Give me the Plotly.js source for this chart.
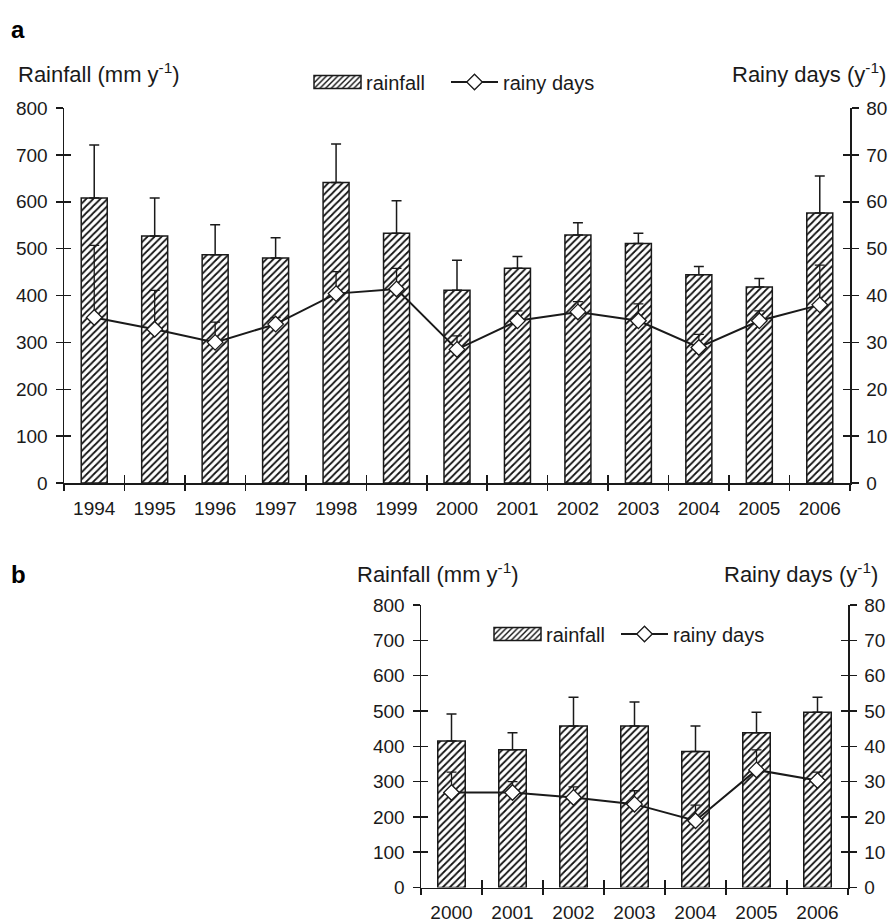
<!DOCTYPE html>
<html>
<head>
<meta charset="utf-8">
<script src="https://cdn.plot.ly/plotly-3.0.1.min.js"></script>
<style>html,body{margin:0;padding:0;background:#fff;}#chart{width:890px;height:924px;}</style>
</head>
<body>
<div id="chart"></div>
<script>
// ---- Panel a data (1994-2006) ----
var yearsA = ['1994','1995','1996','1997','1998','1999','2000','2001','2002','2003','2004','2005','2006'];
var rainfallA = [608, 527, 487, 480, 641, 533, 411, 458, 529, 511, 444, 418, 576];
var rainfallErrA = [113, 81, 64, 43, 82, 69, 64, 25, 26, 22, 18, 18, 79];
var rainyDaysA = [35.3, 32.8, 30.0, 33.9, 40.4, 41.4, 28.5, 34.6, 36.5, 34.6, 28.9, 34.6, 38.0];
var rainyDaysErrA = [15.4, 8.3, 4.3, 1.4, 4.7, 4.4, 2.9, 2.1, 2.2, 3.6, 2.8, 2.1, 8.5];

// ---- Panel b data (2000-2006) ----
var yearsB = ['2000','2001','2002','2003','2004','2005','2006'];
var rainfallB = [415, 390, 457, 457, 385, 438, 496];
var rainfallErrB = [76, 48, 82, 68, 72, 58, 43];
var rainyDaysB = [26.9, 26.9, 25.5, 23.6, 18.9, 33.3, 30.3];
var rainyDaysErrB = [5.8, 3.1, 3.0, 3.8, 4.4, 5.7, 2.4];

var INK = '#1a1a1a';
var FONT = 'Liberation Sans, Arial, sans-serif';
var W = 890, H = 924;
var ITEMW = 47;
function px(x){ return x / W; }
function py(y){ return 1 - y / H; }
function zeros(n){ var a = []; for (var i = 0; i < n; i++) a.push(0); return a; }

function barTrace(x, y, err, xa, ya, lg, w){
  return {
    type: 'bar', x: x, y: y, xaxis: xa, yaxis: ya, name: 'rainfall', legend: lg,
    width: w,
    marker: {color: '#ffffff', line: {color: INK, width: 1.5},
      pattern: {shape: '/', fgcolor: '#111', bgcolor: '#ffffff', size: 5, solidity: 0.35}},
    error_y: {type: 'data', symmetric: false, array: err, arrayminus: zeros(err.length),
      color: INK, thickness: 1.5, width: 5},
    hoverinfo: 'skip'
  };
}
function lineTrace(x, y, err, xa, ya, lg){
  return {
    type: 'scatter', mode: 'lines+markers', x: x, y: y, xaxis: xa, yaxis: ya,
    name: 'rainy days', legend: lg,
    line: {color: INK, width: 2},
    marker: {symbol: 'diamond', size: 12, color: '#ffffff', line: {color: INK, width: 1.3}},
    error_y: {type: 'data', symmetric: false, array: err, arrayminus: zeros(err.length),
      color: INK, thickness: 1.3, width: 5},
    hoverinfo: 'skip'
  };
}
function dummy(x, y, xa, ya){
  return {type: 'scatter', mode: 'markers', x: x, y: y, xaxis: xa, yaxis: ya,
    marker: {opacity: 0}, showlegend: false, hoverinfo: 'skip'};
}

var data = [
  barTrace(yearsA, rainfallA, rainfallErrA, 'x', 'y', 'legend', 0.43),
  lineTrace(yearsA, rainyDaysA, rainyDaysErrA, 'x', 'y2', 'legend3'),
  dummy(yearsA, rainfallA, 'x3', 'y3'),
  dummy(yearsA, rainyDaysA, 'x3', 'y4'),
  barTrace(yearsB, rainfallB, rainfallErrB, 'x2', 'y5', 'legend2', 0.45),
  lineTrace(yearsB, rainyDaysB, rainyDaysErrB, 'x2', 'y6', 'legend4'),
  dummy(yearsB, rainfallB, 'x4', 'y7'),
  dummy(yearsB, rainyDaysB, 'x4', 'y8')
];

var tickFont = {family: FONT, size: 19, color: INK};
function xBase(dom, anchor, cats, standoff){
  return {domain: dom, anchor: anchor, type: 'category', categoryorder: 'array', categoryarray: cats,
    range: [-0.5, cats.length - 0.5], tickson: 'boundaries', ticks: 'outside', ticklen: 6,
    tickwidth: 1.5, tickcolor: INK, showline: true, linecolor: INK, linewidth: 1.5,
    showgrid: false, zeroline: false, tickfont: tickFont, ticklabelstandoff: standoff, fixedrange: true};
}
function xOver(over, anchor, cats){
  return {overlaying: over, anchor: anchor, type: 'category', categoryorder: 'array', categoryarray: cats,
    range: [-0.5, cats.length - 0.5], tickson: 'boundaries', ticks: 'inside', ticklen: 8,
    tickwidth: 1.5, tickcolor: INK, showline: false, showgrid: false, zeroline: false,
    showticklabels: false, fixedrange: true};
}
function yAxis(opts){
  var a = {anchor: opts.anchor, side: opts.side, range: opts.range, dtick: opts.dtick, tick0: 0,
    ticks: opts.inside ? 'inside' : 'outside', ticklen: 7, tickwidth: 1.5, tickcolor: INK,
    showline: !opts.inside, linecolor: INK, linewidth: 1.5, showgrid: false, zeroline: false,
    showticklabels: !opts.inside, tickfont: tickFont, ticklabelstandoff: 4, fixedrange: true};
  if (opts.domain) a.domain = opts.domain;
  if (opts.overlaying) a.overlaying = opts.overlaying;
  return a;
}
function legendAt(xPix, yPix){
  return {orientation: 'h', x: px(xPix), xanchor: 'left', y: py(yPix), yanchor: 'middle',
    font: {family: FONT, size: 20, color: INK}, bgcolor: 'rgba(0,0,0,0)', itemwidth: ITEMW};
}

var domXA = [px(64), px(850)], domYA = [py(483), py(108)];
var domXB = [px(421), px(848)], domYB = [py(887.5), py(605)];

var titleFont = {family: FONT, size: 22, color: INK};
var layout = {
  width: W, height: H,
  margin: {l: 0, r: 0, t: 0, b: 0},
  paper_bgcolor: '#ffffff', plot_bgcolor: 'rgba(0,0,0,0)',
  font: {family: FONT, color: INK},
  showlegend: true,
  xaxis: xBase(domXA, 'y', yearsA, 8),
  xaxis3: xOver('x', 'y', yearsA),
  yaxis: yAxis({domain: domYA, anchor: 'x', side: 'left', range: [0, 800], dtick: 100}),
  yaxis3: yAxis({overlaying: 'y', anchor: 'x', side: 'left', range: [0, 800], dtick: 100, inside: true}),
  yaxis2: yAxis({overlaying: 'y', anchor: 'x', side: 'right', range: [0, 80], dtick: 10}),
  yaxis4: yAxis({overlaying: 'y', anchor: 'x', side: 'right', range: [0, 80], dtick: 10, inside: true}),
  xaxis2: xBase(domXB, 'y5', yearsB, 7),
  xaxis4: xOver('x2', 'y5', yearsB),
  yaxis5: yAxis({domain: domYB, anchor: 'x2', side: 'left', range: [0, 800], dtick: 100}),
  yaxis7: yAxis({overlaying: 'y5', anchor: 'x2', side: 'left', range: [0, 800], dtick: 100, inside: true}),
  yaxis6: yAxis({overlaying: 'y5', anchor: 'x2', side: 'right', range: [0, 80], dtick: 10}),
  yaxis8: yAxis({overlaying: 'y5', anchor: 'x2', side: 'right', range: [0, 80], dtick: 10, inside: true}),
  legend: legendAt(309, 82),
  legend3: legendAt(446, 82),
  legend2: legendAt(489, 634),
  legend4: legendAt(616, 634),
  annotations: [
    {xref: 'paper', yref: 'paper', x: px(9), y: py(30), xanchor: 'left', yanchor: 'middle', showarrow: false,
      text: '<b>a</b>', font: {family: FONT, size: 24, color: '#000'}},
    {xref: 'paper', yref: 'paper', x: px(9), y: py(574), xanchor: 'left', yanchor: 'middle', showarrow: false,
      text: '<b>b</b>', font: {family: FONT, size: 24, color: '#000'}},
    {xref: 'paper', yref: 'paper', x: px(16), y: py(73), xanchor: 'left', yanchor: 'middle', showarrow: false,
      text: 'Rainfall (mm y<sup>-1</sup>)', font: titleFont},
    {xref: 'paper', yref: 'paper', x: px(888), y: py(73), xanchor: 'right', yanchor: 'middle', showarrow: false,
      text: 'Rainy days (y<sup>-1</sup>)', font: titleFont},
    {xref: 'paper', yref: 'paper', x: px(355), y: py(573), xanchor: 'left', yanchor: 'middle', showarrow: false,
      text: 'Rainfall (mm y<sup>-1</sup>)', font: titleFont},
    {xref: 'paper', yref: 'paper', x: px(880), y: py(573), xanchor: 'right', yanchor: 'middle', showarrow: false,
      text: 'Rainy days (y<sup>-1</sup>)', font: titleFont}
  ]
};

// widen the hatched legend key into a bar-like rectangle, as in the original legend
function widenKeys(){
  var half = ITEMW / 2;
  var paths = document.querySelectorAll('#chart .legendpoints path');
  for (var i = 0; i < paths.length; i++) {
    var d = (paths[i].getAttribute('d') || '').replace(/\s/g, '');
    if (/^M6,6H-6V-6H6Z$/.test(d)) {
      paths[i].setAttribute('d', 'M' + half + ',6.5H-' + half + 'V-6.5H' + half + 'Z');
    }
  }
}

Plotly.newPlot('chart', data, layout, {displayModeBar: false, staticPlot: true}).then(function(gd){
  widenKeys();
  gd.on('plotly_afterplot', widenKeys);
  var n = 0;
  var timer = setInterval(function(){ widenKeys(); if (++n > 20) clearInterval(timer); }, 50);
});
</script>
</body>
</html>
